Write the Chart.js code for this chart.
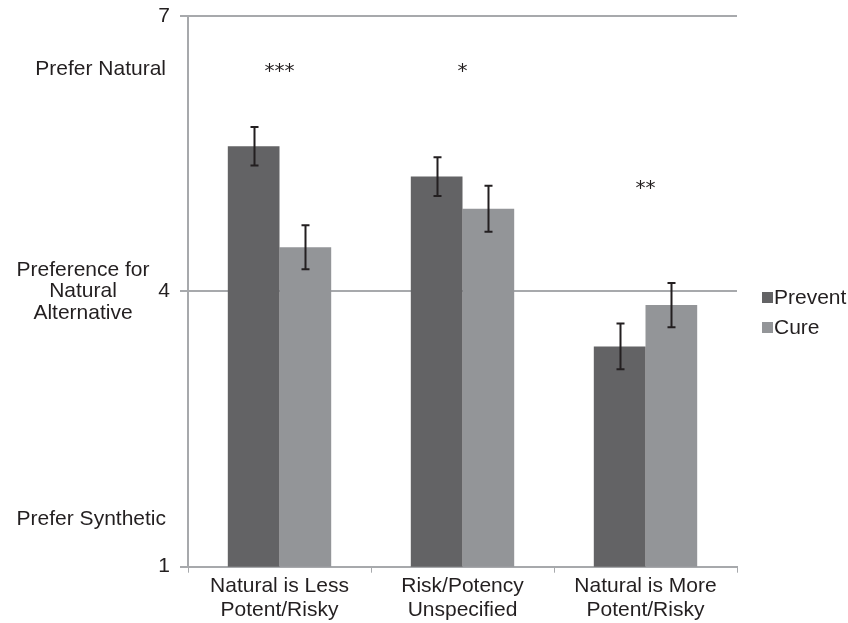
<!DOCTYPE html>
<html>
<head>
<meta charset="utf-8">
<script src="https://cdn.jsdelivr.net/npm/chart.js@4"></script>
<style>
  html, body { margin: 0; padding: 0; background: #fff; }
  #wrap { width: 848px; height: 623px; }
</style>
</head>
<body>
<div id="wrap"><canvas id="myChart"></canvas></div>
<script>
// data
var categories = [['Natural is Less', 'Potent/Risky'], ['Risk/Potency', 'Unspecified'], ['Natural is More', 'Potent/Risky']];
var preventValues = [5.58, 5.25, 3.40];
var preventErrors = [0.21, 0.21, 0.25];
var cureValues = [4.48, 4.90, 3.85];
var cureErrors = [0.24, 0.25, 0.24];
var starLabels = ['***', '*', '**'];
var starValues = [6.42, 6.42, 5.15];
var sideLabels = [['Prefer Natural'], ['Preference for', 'Natural', 'Alternative'], ['Prefer Synthetic']];
var sideValues = [6.42, 4, 1.52];

var fontFamily = '"Liberation Sans", Arial, sans-serif';

// error bars + stars + side labels + legend
var extrasPlugin = {
    id: 'extras',
    afterDatasetsDraw: function (chart) {
        var ctx = chart.ctx;
        var yScale = chart.scales.y;
        var errs = [preventErrors, cureErrors];
        ctx.save();
        ctx.strokeStyle = '#231f20';
        ctx.lineWidth = 2;
        for (var d = 0; d < chart.data.datasets.length; d++) {
            var meta = chart.getDatasetMeta(d);
            var vals = chart.data.datasets[d].data;
            for (var i = 0; i < meta.data.length; i++) {
                var x = Math.round(meta.data[i].x) + 0.5;
                var yTop = yScale.getPixelForValue(vals[i] + errs[d][i]);
                var yBot = yScale.getPixelForValue(vals[i] - errs[d][i]);
                ctx.beginPath();
                ctx.moveTo(x, yTop); ctx.lineTo(x, yBot);
                ctx.moveTo(x - 4, yTop); ctx.lineTo(x + 4, yTop);
                ctx.moveTo(x - 4, yBot); ctx.lineTo(x + 4, yBot);
                ctx.stroke();
            }
        }
        // significance stars
        ctx.fillStyle = '#231f20';
        ctx.font = '20px "DejaVu Sans", sans-serif';
        ctx.textAlign = 'center';
        ctx.textBaseline = 'middle';
        for (var k = 0; k < starLabels.length; k++) {
            var cx = chart.scales.x.getPixelForValue(k);
            ctx.fillText(starLabels[k], cx, yScale.getPixelForValue(starValues[k]) + 3);
        }
        // side labels
        ctx.font = '21px ' + fontFamily;
        for (var s = 0; s < sideLabels.length; s++) {
            var lines = sideLabels[s];
            var cy = yScale.getPixelForValue(sideValues[s]);
            var lh = 21.5;
            var y0 = cy - (lines.length - 1) * lh / 2;
            if (lines.length > 1) {
                ctx.textAlign = 'center';
                for (var l = 0; l < lines.length; l++) {
                    ctx.fillText(lines[l], 83, y0 + l * lh);
                }
            } else {
                ctx.textAlign = 'right';
                ctx.fillText(lines[0], 166, cy);
            }
        }
        // legend
        ctx.textAlign = 'left';
        ctx.font = '21px ' + fontFamily;
        var ly = 297;
        chart.data.datasets.forEach(function (ds, n) {
            ctx.fillStyle = ds.backgroundColor;
            ctx.fillRect(762, ly + n * 30 - 5, 11, 11);
            ctx.fillStyle = '#231f20';
            ctx.fillText(ds.label, 774, ly + n * 30 + 1);
        });
        ctx.restore();
    }
};

const ctx = document.getElementById('myChart').getContext('2d');
const chart = new Chart(ctx, {
    type: 'bar',
    data: {
        labels: categories,
        datasets: [{
            label: 'Prevent',
            data: preventValues,
            backgroundColor: '#636365',
            borderWidth: 0
        }, {
            label: 'Cure',
            data: cureValues,
            backgroundColor: '#939598',
            borderWidth: 0
        }]
    },
    options: {
        responsive: true,
        maintainAspectRatio: false,
        animation: false,
        layout: { padding: { top: 16, right: 111, bottom: 0, left: 0 } },
        categoryPercentage: 0.565,
        barPercentage: 1.0,
        plugins: {
            legend: { display: false },
            tooltip: { enabled: false }
        },
        scales: {
            x: {
                grid: {
                    display: true,
                    drawOnChartArea: false,
                    tickLength: 6,
                    color: '#a7a9ac'
                },
                border: { color: '#a7a9ac', width: 2 },
                ticks: {
                    color: '#231f20',
                    font: { size: 21, family: fontFamily, lineHeight: 1.15 },
                    maxRotation: 0,
                    padding: 1
                }
            },
            y: {
                min: 1,
                max: 7,
                afterFit: function (scale) {
                    scale.width = 188;
                    scale.paddingTop = 0;
                    scale.paddingBottom = 0;
                },
                grid: {
                    color: '#a7a9ac',
                    lineWidth: 2,
                    tickLength: 8
                },
                border: { color: '#a7a9ac', width: 2 },
                ticks: {
                    stepSize: 3,
                    color: '#231f20',
                    padding: 10,
                    font: { size: 21, family: fontFamily }
                }
            }
        }
    },
    plugins: [extrasPlugin]
});
</script>
</body>
</html>
